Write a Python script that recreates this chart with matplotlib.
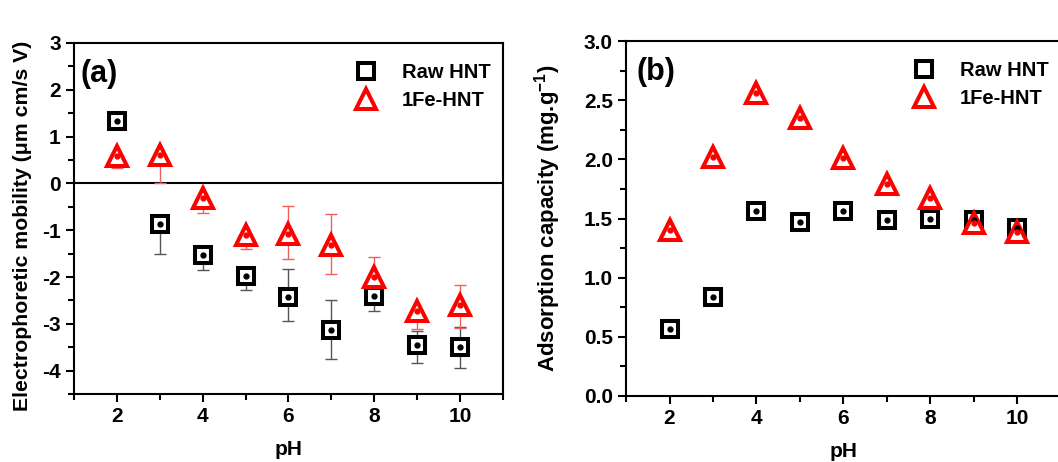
import numpy as np
import matplotlib.pyplot as plt
from matplotlib.ticker import MultipleLocator

plt.rcParams['font.family'] = ['Liberation Sans', 'DejaVu Sans']
plt.rcParams['font.weight'] = 'bold'
plt.rcParams['mathtext.default'] = 'regular'
plt.rcParams['axes.unicode_minus'] = False

# datos
ph = [2, 3, 4, 5, 6, 7, 8, 9, 10]

# (a) movilidad electroforetica
mob_raw = [1.34, -0.87, -1.52, -1.97, -2.42, -3.13, -2.41, -3.45, -3.50]
mob_raw_lo = [0, 0.64, 0.32, 0.30, 0.51, 0.63, 0.32, 0.38, 0.45]
mob_raw_hi = [0, 0, 0, 0, 0.59, 0.64, 0.39, 0.29, 0.44]
mob_fe = [0.58, 0.61, -0.31, -1.10, -1.08, -1.31, -1.99, -2.73, -2.59]
mob_fe_lo = [0.25, 0.61, 0.32, 0.30, 0.53, 0.63, 0.30, 0.39, 0.49]
mob_fe_hi = [0, 0, 0, 0, 0.59, 0.66, 0.42, 0, 0.41]

# (b) capacidad de adsorcion
ads_raw = [0.57, 0.84, 1.56, 1.47, 1.56, 1.49, 1.50, 1.49, 1.42]
ads_fe = [1.40, 2.02, 2.56, 2.35, 2.01, 1.79, 1.67, 1.46, 1.39]

fig = plt.figure(figsize=(10.58, 4.62), dpi=100)
ax1 = fig.add_axes([0.0699, 0.147, 0.4055, 0.760])
ax2 = fig.add_axes([0.5917, 0.143, 0.411, 0.768])


def draw_series(ax, y, color, marker, ms, label, err=None, ecolor=None):
    if err is not None:
        ax.errorbar(ph, y, yerr=err, fmt='none', ecolor=ecolor, elinewidth=1,
                    capsize=4, capthick=1, zorder=2)
    ax.plot(ph, y, linestyle='none', marker=marker, ms=ms, mec=color, mfc='white',
            mew=2.9, zorder=3, label=label)
    ax.plot(ph, y, linestyle='none', marker='o', ms=3.5, color=color, zorder=4)


draw_series(ax1, mob_raw, 'black', 's', 12, 'Raw HNT',
            err=[mob_raw_lo, mob_raw_hi], ecolor='#555555')
draw_series(ax1, mob_fe, 'red', '^', 15, '1Fe-HNT',
            err=[mob_fe_lo, mob_fe_hi], ecolor='#f06060')
ax1.axhline(0, color='black', lw=1.5, zorder=1)

draw_series(ax2, ads_raw, 'black', 's', 12, 'Raw HNT')
draw_series(ax2, ads_fe, 'red', '^', 15, '1Fe-HNT')

ax1.set_xlim(1, 11)
ax1.set_ylim(-4.5, 3)
ax1.yaxis.set_major_locator(MultipleLocator(1))
ax1.yaxis.set_minor_locator(MultipleLocator(0.5))
ax1.set_ylabel('Electrophoretic mobility (μm cm/s V)', fontsize=15.3, fontweight='bold')
ax1.yaxis.set_label_coords(-0.098, 0.48)
ax1.text(0.016, 0.955, '(a)', transform=ax1.transAxes, fontsize=22,
         fontweight='bold', va='top')

ax2.set_xlim(1, 11)
ax2.set_ylim(0, 3)
ax2.yaxis.set_major_locator(MultipleLocator(0.5))
ax2.yaxis.set_minor_locator(MultipleLocator(0.25))
ax2.yaxis.set_major_formatter(plt.FormatStrFormatter('%.1f'))
ax2.set_ylabel('Adsorption capacity (mg.g$^{-1}$)', fontsize=16, fontweight='bold')
ax2.yaxis.set_label_coords(-0.145, 0.5)
ax2.text(0.025, 0.955, '(b)', transform=ax2.transAxes, fontsize=22,
         fontweight='bold', va='top')

for ax in (ax1, ax2):
    ax.xaxis.set_major_locator(MultipleLocator(2))
    ax.xaxis.set_minor_locator(MultipleLocator(1))
    ax.set_xlabel('pH', fontsize=15, fontweight='bold', labelpad=10)
    ax.tick_params(which='both', direction='out', top=False, right=False,
                   width=1.5, labelsize=15)
    ax.tick_params(which='major', length=6)
    ax.tick_params(which='minor', length=4)
    for s in ax.spines.values():
        s.set_linewidth(1.5)
    for lab in ax.get_xticklabels() + ax.get_yticklabels():
        lab.set_fontweight('bold')
    leg = ax.legend(loc='upper right', frameon=False, fontsize=14.5,
                    handletextpad=1.0, labelspacing=0.45,
                    bbox_to_anchor=(1.013, 0.995), handlelength=1.5)
    for t in leg.get_texts():
        t.set_fontweight('bold')

fig.savefig('out.png', dpi=100)
